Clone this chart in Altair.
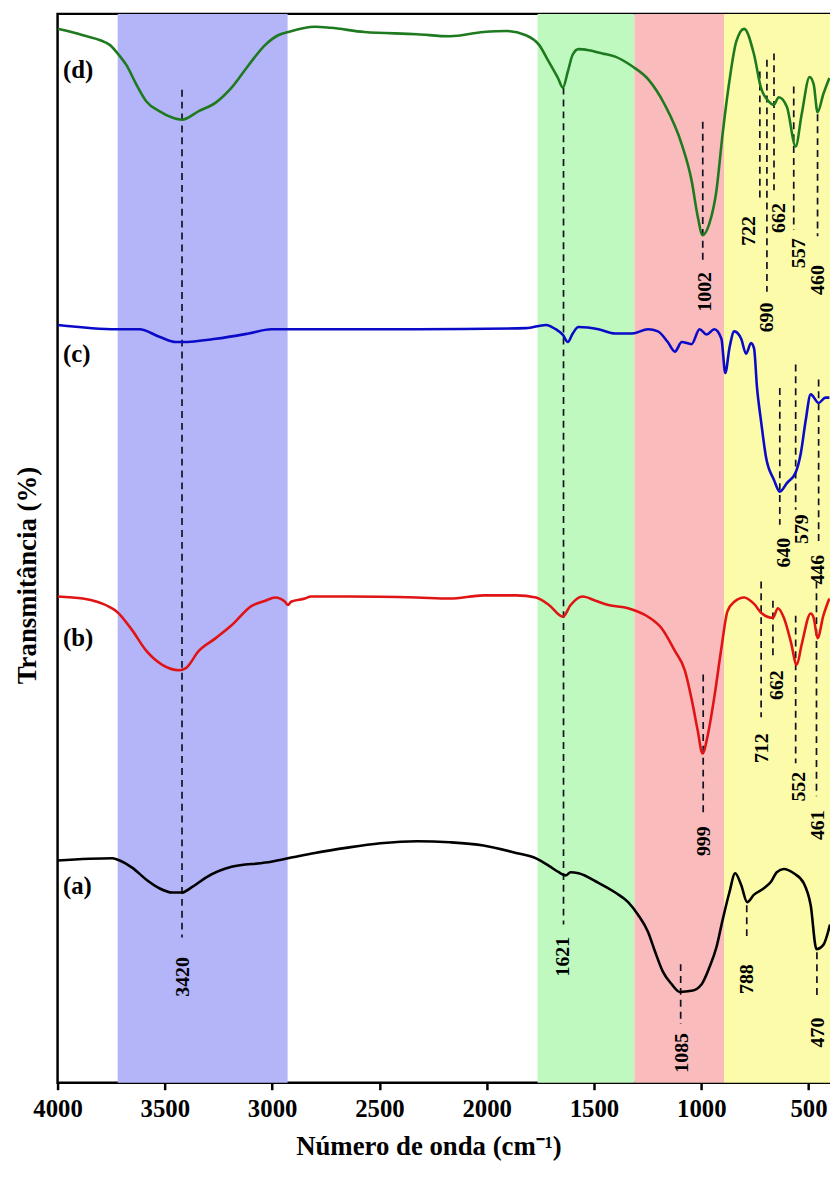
import altair as alt
import pandas as pd

FONT = "Liberation Serif"

# ---- shaded regions (cm-1) ----
band_names = ["OH", "H2O", "SiO", "MO"]
band_start = [3720, 1763, 1311, 894]
band_end = [2928, 1311, 894, 400]
band_colors = ["#b4b4f8", "#bff9c0", "#f9bbbb", "#fbfba9"]

# ---- spectra (wavenumber, transmittance in arbitrary %) ----
wn_d = [4000, 3882, 3757, 3720, 3679, 3633, 3586, 3526, 3466, 3420, 3342, 3263, 3189, 3110, 3032, 2972, 2926, 2801, 2727, 2570,
        2325, 2172, 2015, 1909, 1817, 1756, 1710, 1668, 1645, 1622, 1599, 1572, 1525, 1461, 1401, 1322, 1248, 1170, 1091, 1045,
        1017, 994, 962, 929, 902, 869, 837, 800, 754, 722, 685, 662, 639, 601, 560, 532, 495, 476, 458, 431, 403]
T_d = [98.6, 98.0, 97.1, 96.3, 95.2, 93.4, 91.8, 90.9, 90.3, 90.1, 90.9, 91.7, 93.1, 95.2, 97.1, 98.0, 98.3, 98.8, 98.7, 98.3,
       98.1, 97.9, 98.3, 98.4, 98.0, 97.1, 95.5, 94.0, 93.1, 94.6, 96.2, 96.7, 96.6, 96.3, 96.0, 95.1, 93.9, 91.5, 87.8, 84.4,
       81.1, 79.3, 80.4, 83.5, 88.5, 93.7, 97.4, 98.6, 96.2, 93.1, 91.8, 91.5, 92.2, 91.3, 87.6, 90.6, 94.1, 93.4, 90.8, 92.5, 94.0]

wn_c = [4000, 3725, 3619, 3526, 3448, 3420, 3263, 3110, 3004, 2801, 2325, 1817, 1724, 1678, 1646, 1622, 1599, 1572, 1479, 1401,
        1322, 1248, 1202, 1156, 1123, 1091, 1045, 1008, 975, 939, 906, 888, 869, 846, 814, 791, 768, 754, 740, 722,
        698, 661, 634, 601, 560, 536, 513, 490, 453, 421, 403]
T_c = [70.9, 70.5, 70.5, 69.8, 69.3, 69.3, 69.6, 70.1, 70.5, 70.5, 70.5, 70.6, 70.9, 70.5, 70.0, 69.3, 70.1, 70.7, 70.5, 70.1,
       70.1, 70.5, 70.3, 69.3, 68.4, 69.3, 69.1, 70.5, 70.0, 70.5, 69.6, 66.4, 68.7, 70.3, 69.6, 68.2, 69.2, 68.7, 65.0, 62.0,
       58.5, 56.4, 55.3, 56.1, 57.1, 58.9, 62.0, 64.4, 63.6, 64.1, 64.1]

wn_b = [4000, 3882, 3757, 3725, 3651, 3586, 3512, 3434, 3402, 3342, 3263, 3189, 3097, 3032, 2986, 2940, 2926, 2912, 2847, 2819,
        2648, 2325, 2172, 2015, 1863, 1770, 1710, 1645, 1609, 1553, 1493, 1433, 1341, 1248, 1184, 1123, 1077, 1040, 1017, 994,
        971, 939, 906, 878, 846, 800, 754, 717, 666, 643, 615, 583, 555, 532, 490, 476, 458, 431, 403]
T_b = [45.5, 45.3, 44.5, 44.1, 42.3, 40.4, 39.1, 38.6, 38.8, 40.4, 41.6, 42.8, 44.6, 45.1, 45.4, 45.0, 44.7, 45.0, 45.3, 45.5,
       45.5, 45.4, 45.3, 45.6, 45.6, 45.4, 44.7, 43.6, 44.7, 45.5, 45.1, 44.7, 44.4, 43.6, 42.5, 40.4, 38.6, 35.4, 33.0, 30.8,
       32.4, 36.1, 40.7, 44.1, 45.0, 45.4, 44.8, 43.9, 43.5, 44.4, 43.5, 41.3, 39.1, 41.0, 43.9, 43.5, 41.6, 43.7, 45.3]

wn_a = [4000, 3744, 3711, 3651, 3586, 3526, 3466, 3420, 3374, 3309, 3189, 3032, 2926, 2801, 2648, 2496, 2325, 2172, 2015, 1863,
        1770, 1710, 1664, 1632, 1609, 1572, 1479, 1401, 1341, 1294, 1248, 1216, 1179, 1137, 1100, 1045, 999, 962, 929, 902,
        869, 842, 814, 786, 754, 708, 675, 648, 615, 569, 523, 490, 463, 431, 400]
T_a = [20.8, 21.0, 20.8, 20.1, 19.0, 18.2, 17.8, 17.8, 18.3, 19.2, 20.2, 20.6, 21.0, 21.5, 22.0, 22.4, 22.6, 22.5, 22.2, 21.5,
       21.0, 20.3, 19.7, 19.4, 19.7, 19.6, 18.7, 17.8, 16.9, 15.7, 14.1, 12.3, 10.4, 9.2, 8.5, 8.6, 9.2, 10.8, 12.7, 15.1,
       17.8, 19.6, 18.5, 16.9, 17.6, 18.2, 18.8, 19.7, 20.0, 19.6, 18.7, 16.6, 12.5, 12.9, 14.8]

series_names = ["(a)", "(b)", "(c)", "(d)"]
series_colors = ["#000000", "#e01414", "#0a0ac8", "#1e7a1e"]
series_label_T = [18.4, 41.6, 68.2, 94.7]
series_label_wn = [3975, 3975, 3975, 3975]

# ---- dashed peak markers ----
line_wn = [3420, 1642, 993, 727, 694, 661, 569, 458, 634, 560, 453, 991, 721, 666, 560, 463, 1096, 788, 461]
line_top = [92.9, 93.1, 89.9, 94.6, 95.7, 96.3, 93.2, 90.6, 65.0, 67.2, 65.8, 38.2, 46.9, 45.1, 43.7, 46.9, 11.1, 16.6, 12.2]
line_bot = [13.6, 14.8, 76.7, 82.6, 74.0, 83.5, 79.8, 79.2, 52.2, 53.6, 50.6, 25.0, 34.2, 39.8, 29.9, 26.8, 5.5, 13.6, 8.0]

# ---- peak labels ----
lab_text = ["3420", "1621", "1002", "722", "690", "662", "557", "460", "640", "579", "446",
            "999", "712", "662", "552", "461", "1085", "788", "470"]
lab_wn = [3415, 1642, 983, 777, 694, 638, 546, 458, 615, 532, 458, 985, 717, 647, 546, 458, 1091, 786, 458]
lab_T = [9.9, 11.8, 74.0, 79.7, 71.6, 80.9, 77.6, 75.1, 49.6, 51.8, 48.0, 22.6, 31.3, 37.2, 27.7, 24.1, 2.8, 9.7, 4.7]

x_ticks = [4000, 3500, 3000, 2500, 2000, 1500, 1000, 500]

# ---- tables ----
band_df = pd.DataFrame({"name": band_names, "start": band_start, "end": band_end})
rows = []
for name, wn, T in [("(a)", wn_a, T_a), ("(b)", wn_b, T_b), ("(c)", wn_c, T_c), ("(d)", wn_d, T_d)]:
    for w, t in zip(wn, T):
        rows.append({"series": name, "wn": w, "T": t})
spec_df = pd.DataFrame(rows)
line_df = pd.DataFrame({"wn": line_wn, "top": line_top, "bot": line_bot})
lab_df = pd.DataFrame({"wn": lab_wn, "T": lab_T, "text": lab_text})
name_df = pd.DataFrame({"wn": series_label_wn, "T": series_label_T, "text": series_names})

x_scale = alt.Scale(domain=[4000, 400], nice=False, zero=False)
y_scale = alt.Scale(domain=[0, 100], nice=False, zero=False)

x_axis = alt.Axis(
    values=x_ticks, format="d", title="Número de onda (cm⁻¹)",
    domain=False, grid=False, ticks=True, tickSize=7, tickWidth=2.5, tickColor="black",
    labelFont=FONT, labelFontSize=25, labelFontWeight="bold", labelColor="black", labelPadding=7,
    labelOverlap=False, labelFlush=False,
    titleFont=FONT, titleFontSize=27, titleFontWeight="bold", titleColor="black",
    titleX=374, titleY=72, titleAlign="center", titleBaseline="alphabetic",
)
y_axis = alt.Axis(
    title="Transmitância (%)", domain=False, grid=False, ticks=False, labels=False,
    titleFont=FONT, titleFontSize=27, titleFontWeight="bold", titleColor="black",
    titleX=-30, titleY=566, titleAngle=270, titleAlign="center", titleBaseline="middle",
)


def X(field):
    return alt.X(field, type="quantitative", scale=x_scale, axis=x_axis)


def Y(field):
    return alt.Y(field, type="quantitative", scale=y_scale, axis=y_axis)


bands = alt.Chart(band_df).mark_rect().encode(
    x=X("start"), x2="end",
    fill=alt.Fill("name:N", scale=alt.Scale(domain=band_names, range=band_colors), legend=None),
)

rules = alt.Chart(line_df).mark_rule(color="#111122", strokeWidth=1.7, strokeDash=[7, 5]).encode(
    x=X("wn"), y=Y("top"), y2="bot",
)

curves = alt.Chart(spec_df).mark_line(strokeWidth=2.6, clip=True, interpolate="monotone").encode(
    x=X("wn"), y=Y("T"),
    stroke=alt.Stroke("series:N", scale=alt.Scale(domain=series_names, range=series_colors), legend=None),
    detail="series:N",
)

labels = alt.Chart(lab_df).mark_text(
    angle=270, font=FONT, fontSize=20, fontWeight="bold", color="black", align="center", baseline="middle",
).encode(x=X("wn"), y=Y("T"), text="text:N")

names = alt.Chart(name_df).mark_text(
    font=FONT, fontSize=25, fontWeight="bold", color="black", align="left", baseline="middle",
).encode(x=X("wn"), y=Y("T"), text="text:N")

chart = alt.layer(bands, rules, curves, labels, names).properties(
    width=779, height=1078,
    autosize=alt.AutoSizeParams(type="none"),
    padding={"left": 50, "top": 1, "right": 0, "bottom": 78},
).configure_view(stroke="black", strokeWidth=2.5)

chart.save("out.html", embed_options={"renderer": "svg", "actions": False})
